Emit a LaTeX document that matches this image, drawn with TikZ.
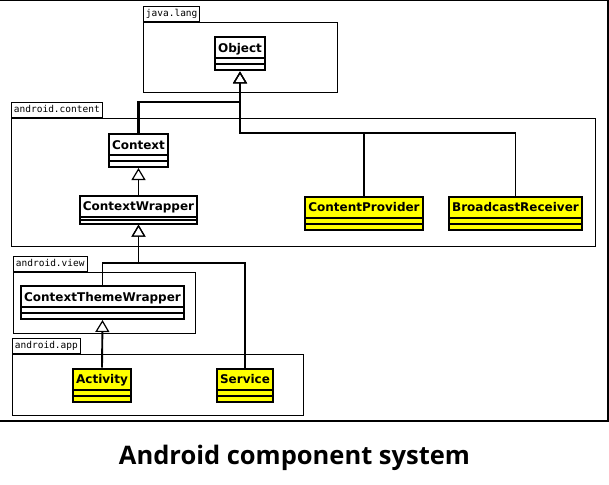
\documentclass[tikz,border=0pt]{standalone}
\usepackage{fontspec}
\usepackage{tikz}
\usetikzlibrary{positioning,arrows.meta}
\newfontfamily\clsfont{DejaVu Sans}
\newfontfamily\pkgfont{DejaVu Sans Mono}
\newfontfamily\titlefont{Open Sans}
\definecolor{clsyellow}{RGB}{255,255,0}

\begin{document}
\begin{tikzpicture}[x=1pt, y=-1pt,
  cls/.style={draw, line width=2pt, fill=white,
              font=\clsfont\bfseries\fontsize{12}{14}\selectfont,
              inner xsep=3pt, inner ysep=0pt, anchor=north,
              text height=15pt, text depth={6pt+2*#1},
              path picture={\draw[line width=2pt]
                ([yshift=#1]path picture bounding box.south west) --
                ([yshift=#1]path picture bounding box.south east)
                ([yshift=2*#1]path picture bounding box.south west) --
                ([yshift=2*#1]path picture bounding box.south east);}},
  cls/.default=6pt,
  comp/.style={cls, fill=clsyellow},
  pkg/.style={draw, line width=0.9pt},
  tab/.style={draw, line width=0.9pt, fill=white, anchor=south west,
              font=\pkgfont\fontsize{9.5}{11}\selectfont,
              inner xsep=2.5pt, inner ysep=3pt, text height=7pt, text depth=2pt},
  gen/.style={line width=1.9pt,
              -{Triangle[open, length=12pt, width=14pt, line width=1.2pt]}},
]
  \useasboundingbox (0,0) rectangle (609,484);
  \draw[line width=1.5pt] (0,0.75) -- (607.9,0.75) -- (607.9,421) -- (0,421);

  % packages
  \draw[pkg] (143,22) rectangle (337,92);
  \node[tab] (langtab) at (143,22) {java.lang};
  \draw[pkg] (11,118) rectangle (595,246);
  \node[tab] (contenttab) at (11,118) {android.content};
  \draw[pkg] (13,272) rectangle (195,333);
  \node[tab] (viewtab) at (13,272) {android.view};
  \draw[pkg] (12,354) rectangle (303,415);
  \node[tab] (apptab) at (12,354) {android.app};

  % classes
  \node[cls] (obj) at (240,36.5) {Object};
  \node[cls] (ctx) at (138.5,133) {Context};
  \node[cls=3.6pt] (cw) at (138.5,194.5) {ContextWrapper};
  \node[comp] (cp) at (364,195.5) {ContentProvider};
  \node[comp] (br) at (515.5,195.5) {BroadcastReceiver};
  \node[cls] (ctw) at (102.5,285) {ContextThemeWrapper};
  \node[comp] (act) at (102,367.5) {Activity};
  \node[comp] (svc) at (245,367.5) {Service};

  % inheritance
  \coordinate (jctx) at (240,102);
  \coordinate (jcomp) at (240,133);
  \coordinate (jwrap) at (138.5,263);
  \draw[gen, line width=2.3pt] (ctx.north) |- (jctx) -- (obj.south);
  \draw[gen, line width=2.3pt] (cp.north) |- (jcomp) -- (obj.south);
  \draw[gen, line width=1.5pt] (br.north) |- (jcomp) -- (obj.south);
  \draw[gen] (cw.north) -- (ctx.south);
  \draw[gen] (ctw.north) |- (jwrap) -- (cw.south);
  \draw[gen] (svc.north) |- (jwrap) -- (cw.south);
  \draw[gen] (act.north) -- (ctw.south);

  \node[font=\titlefont\bfseries\fontsize{25.5}{30}\selectfont, anchor=base]
    (title) at (294.5,464.5) {Android component system};
\end{tikzpicture}
\end{document}
